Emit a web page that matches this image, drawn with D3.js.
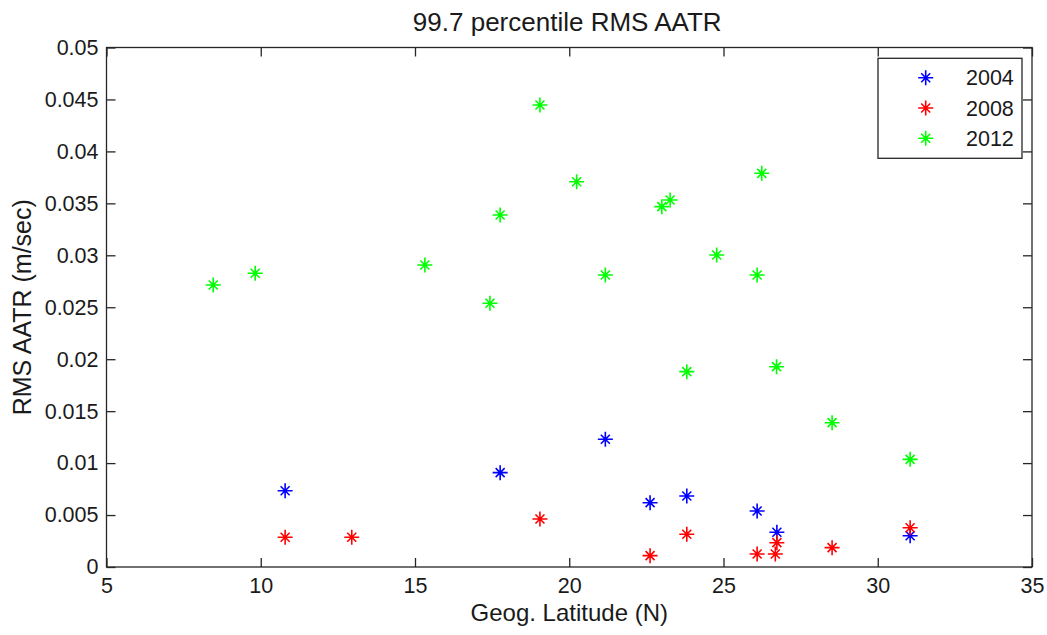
<!DOCTYPE html>
<html>
<head>
<meta charset="utf-8">
<script src="https://cdn.jsdelivr.net/npm/d3@7"></script>
<style>
  html, body { margin: 0; padding: 0; background: #fff; }
  svg { display: block; }
  text { font-family: "Liberation Sans", Arial, sans-serif; fill: #1a1a1a; }
</style>
</head>
<body>
<svg id="chart" width="1047" height="635"></svg>
<script>
// ---- data ----
const seriesNames = ["2004", "2008", "2012"];
const seriesColors = ["#0000ff", "#ff0000", "#00ff00"];

const lat2004  = [10.79, 17.76, 21.17, 22.62, 23.81, 26.09, 26.73, 31.05];
const aatr2004 = [0.00734, 0.00908, 0.01229, 0.00619, 0.00683, 0.00539, 0.00334, 0.00301];

const lat2008  = [10.79, 12.95, 19.05, 22.62, 23.81, 26.09, 26.68, 26.73, 28.52, 31.05];
const aatr2008 = [0.00286, 0.00286, 0.00462, 0.00109, 0.00315, 0.00125, 0.00125, 0.00234, 0.00186, 0.00378];

const lat2012  = [8.46, 9.82, 15.32, 17.43, 17.76, 19.05, 20.24, 21.17, 23.0, 23.27, 23.81, 24.78, 26.09, 26.24, 26.72, 28.52, 31.05];
const aatr2012 = [0.02714, 0.02827, 0.02907, 0.02538, 0.03388, 0.04447, 0.03708, 0.0281, 0.03468, 0.03532, 0.0188, 0.03003, 0.0281, 0.03789, 0.01928, 0.01389, 0.01036];

const xTicks = [5, 10, 15, 20, 25, 30, 35];
const yTicks = [0, 0.005, 0.01, 0.015, 0.02, 0.025, 0.03, 0.035, 0.04, 0.045, 0.05];
const yTickLabels = ["0", "0.005", "0.01", "0.015", "0.02", "0.025", "0.03", "0.035", "0.04", "0.045", "0.05"];

const titleText = "99.7 percentile RMS AATR";
const xLabelText = "Geog. Latitude (N)";
const yLabelText = "RMS AATR (m/sec)";

// ---- layout ----
const svg = d3.select("#chart");
const pLeft = 106.5, pRight = 1032, pTop = 47.5, pBottom = 567;

const x = d3.scaleLinear().domain([5, 35]).range([pLeft, pRight]);
const y = d3.scaleLinear().domain([0, 0.05]).range([pBottom, pTop]);

const series = [
  { name: seriesNames[0], color: seriesColors[0], xs: lat2004, ys: aatr2004 },
  { name: seriesNames[1], color: seriesColors[1], xs: lat2008, ys: aatr2008 },
  { name: seriesNames[2], color: seriesColors[2], xs: lat2012, ys: aatr2012 }
];

const tickFont = "21.5px";
const axisColor = "#262626";

// frame
svg.append("rect")
  .attr("x", pLeft).attr("y", pTop)
  .attr("width", pRight - pLeft).attr("height", pBottom - pTop)
  .attr("fill", "none").attr("stroke", axisColor).attr("stroke-width", 1.3);

function styleAxis(g) {
  g.select(".domain").remove();
  g.selectAll(".tick line").attr("stroke", axisColor).attr("stroke-width", 1.3);
  g.selectAll(".tick text").style("font-size", tickFont).attr("fill", "#1a1a1a");
}

// axes with inward ticks
svg.append("g").attr("transform", `translate(0,${pBottom})`)
  .call(d3.axisBottom(x).tickValues(xTicks).tickFormat(d3.format("d")).tickSize(-9).tickPadding(11))
  .call(styleAxis);
svg.append("g").attr("transform", `translate(0,${pTop})`)
  .call(d3.axisTop(x).tickValues(xTicks).tickFormat("").tickSize(-9))
  .call(styleAxis);
svg.append("g").attr("transform", `translate(${pLeft},0)`)
  .call(d3.axisLeft(y).tickValues(yTicks).tickFormat((d, i) => yTickLabels[i]).tickSize(-9).tickPadding(8))
  .call(styleAxis);
svg.append("g").attr("transform", `translate(${pRight},0)`)
  .call(d3.axisRight(y).tickValues(yTicks).tickFormat("").tickSize(-9))
  .call(styleAxis);

// star marker path (MATLAB '*': plus + x)
function starPath(cx, cy) {
  const a = 7.5, b = 4.5;
  return `M${cx - a},${cy}L${cx + a},${cy}M${cx},${cy - a}L${cx},${cy + a}` +
         `M${cx - b},${cy - b}L${cx + b},${cy + b}M${cx - b},${cy + b}L${cx + b},${cy - b}`;
}

series.forEach(s => {
  const pts = s.xs.map((v, i) => [v, s.ys[i]]);
  svg.append("g").selectAll("path")
    .data(pts).enter().append("path")
    .attr("d", d => starPath(x(d[0]), y(d[1])))
    .attr("stroke", s.color).attr("stroke-width", 1.6).attr("fill", "none");
});

// title and labels
svg.append("text")
  .attr("x", (pLeft + pRight) / 2 - 2).attr("y", 31)
  .attr("text-anchor", "middle").style("font-size", "26px")
  .text(titleText);

svg.append("text")
  .attr("x", (pLeft + pRight) / 2).attr("y", 621)
  .attr("text-anchor", "middle").style("font-size", "24px")
  .text(xLabelText);

svg.append("text")
  .attr("transform", `translate(31,${(pTop + pBottom) / 2}) rotate(-90)`)
  .attr("text-anchor", "middle").style("font-size", "25px")
  .text(yLabelText);

// legend
const legend = svg.append("g");
legend.append("rect")
  .attr("x", 878).attr("y", 58.3).attr("width", 144).attr("height", 100)
  .attr("fill", "#fff").attr("stroke", axisColor).attr("stroke-width", 1.3);
const legendY = d3.scalePoint().domain(seriesNames).range([77.7, 138.3]);
series.forEach(s => {
  legend.append("path")
    .attr("d", starPath(925.7, legendY(s.name)))
    .attr("stroke", s.color).attr("stroke-width", 1.6).attr("fill", "none");
  legend.append("text")
    .attr("x", 966).attr("y", legendY(s.name))
    .attr("dy", "0.36em").style("font-size", tickFont)
    .text(s.name);
});
</script>
</body>
</html>
